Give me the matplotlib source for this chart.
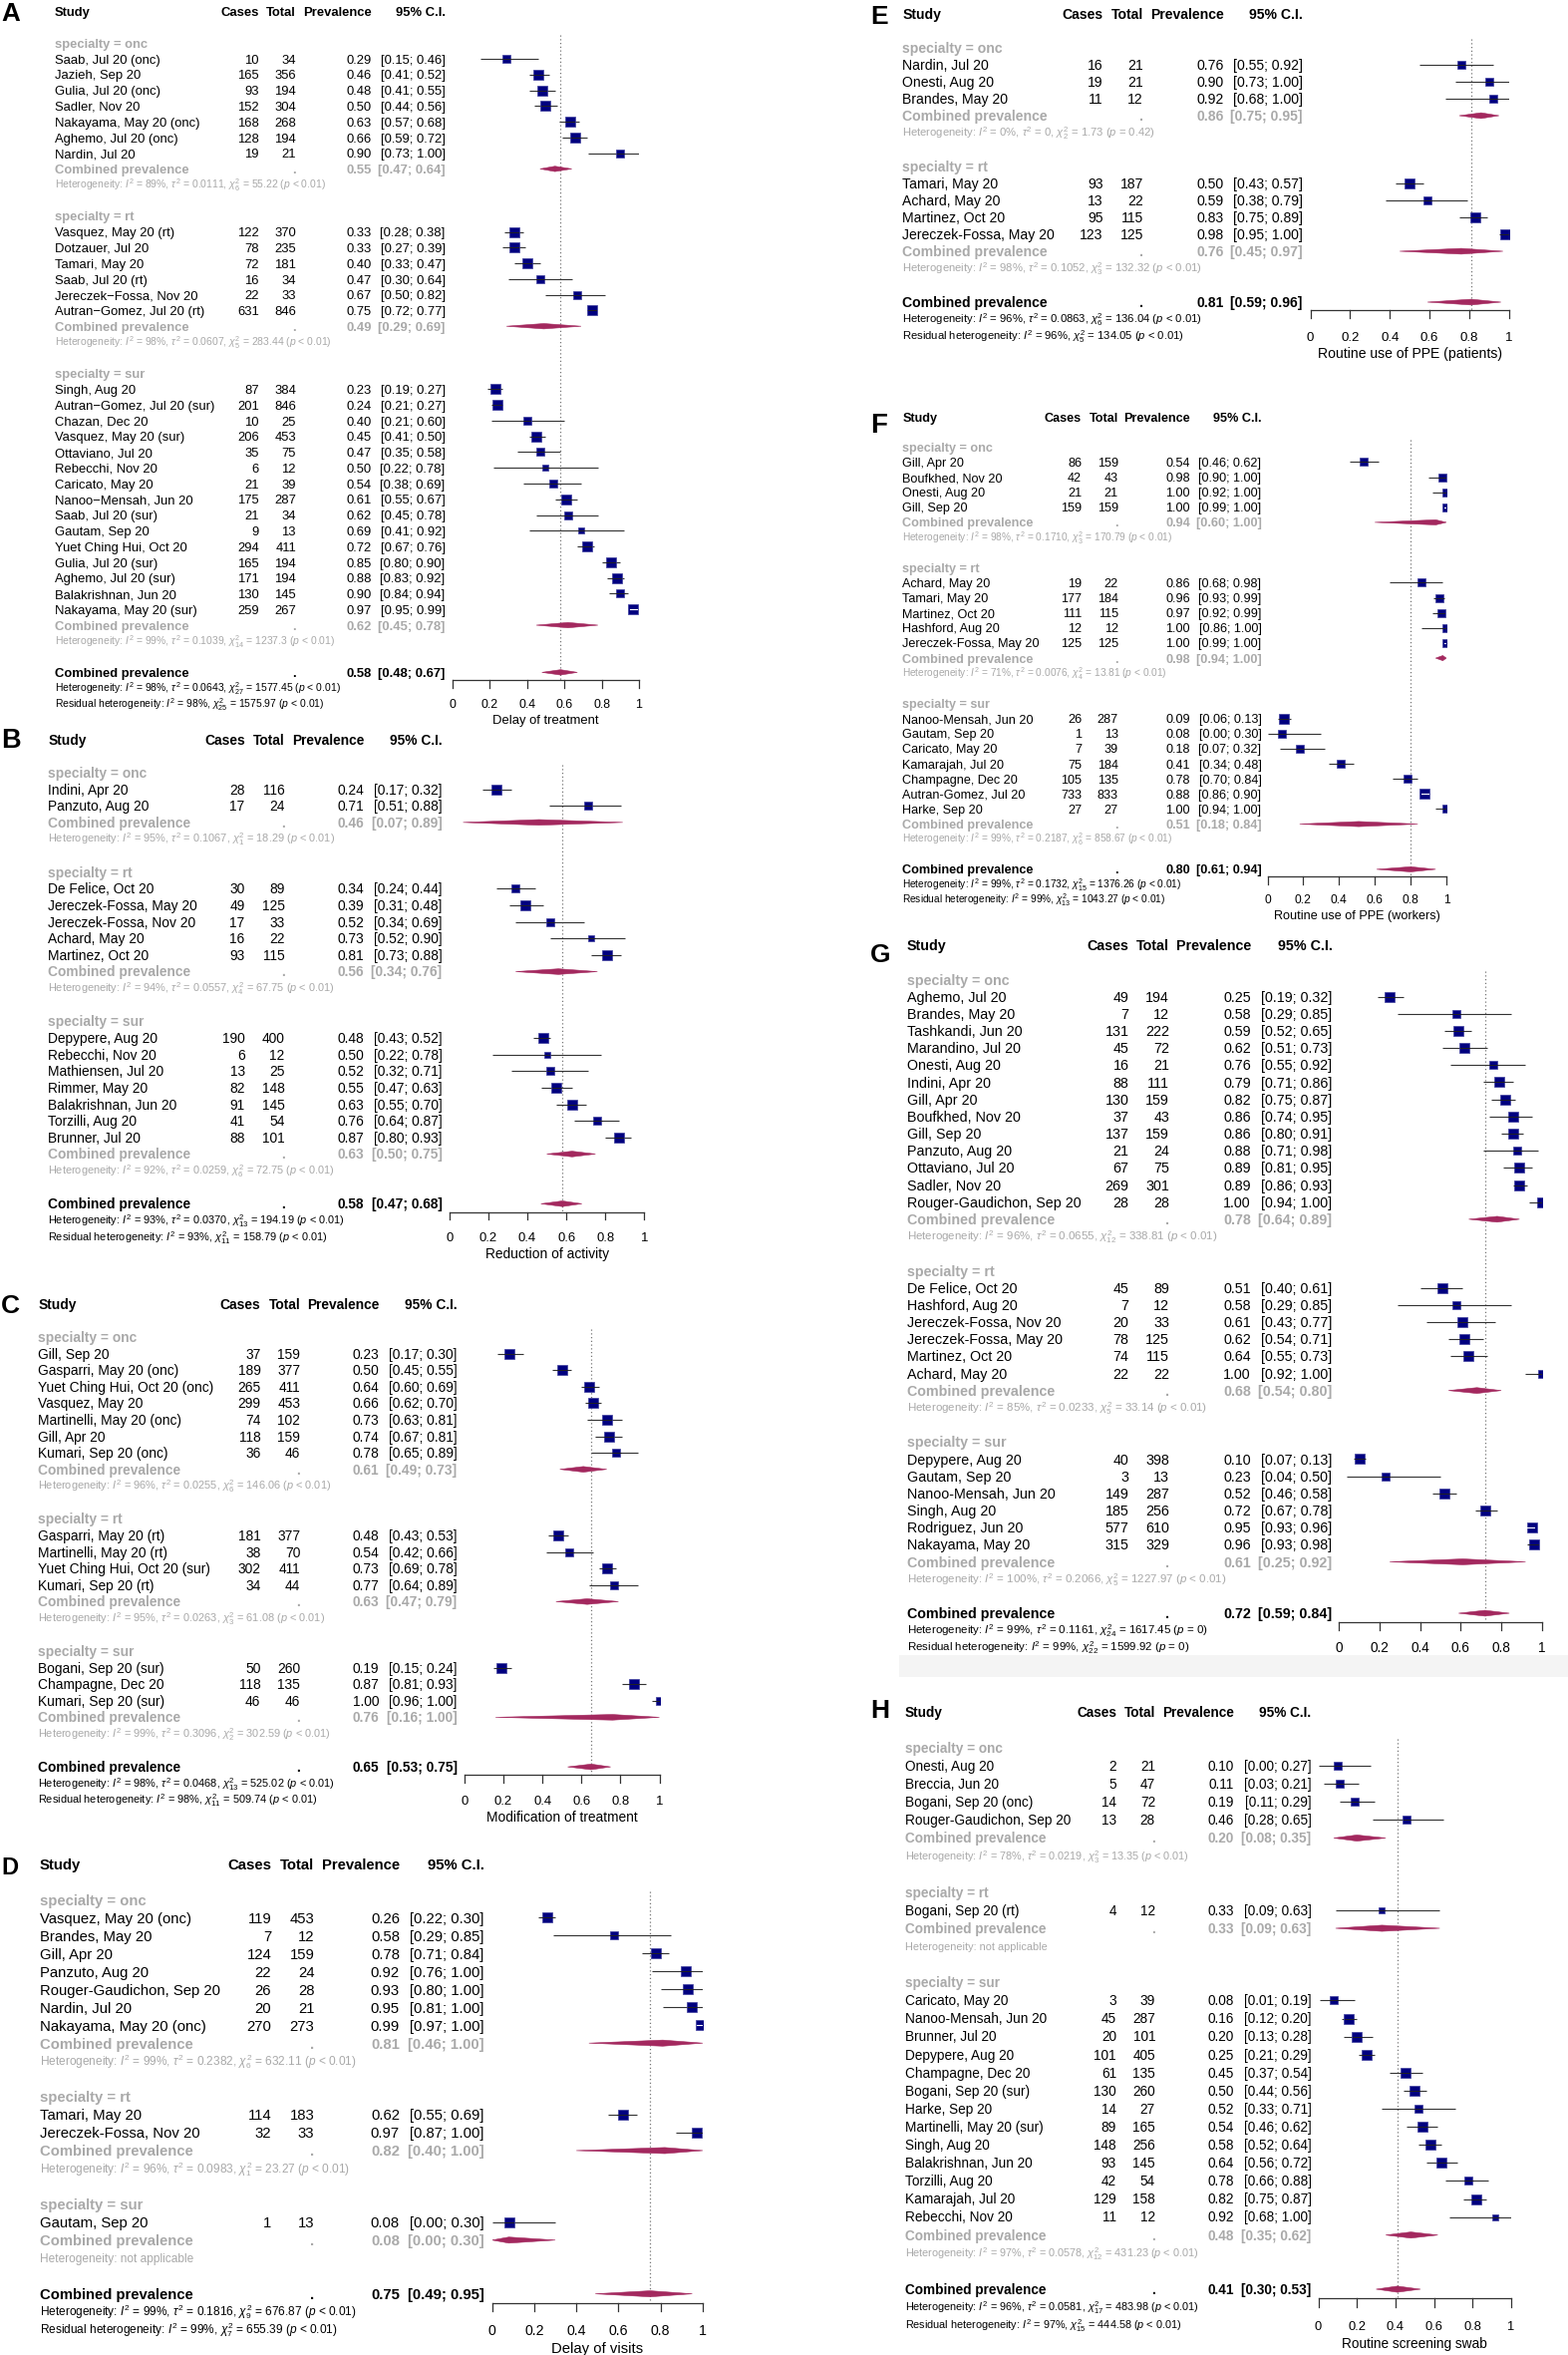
import math

import matplotlib

matplotlib.use("Agg")
import matplotlib.pyplot as plt
import matplotlib.transforms as mtransforms
from matplotlib.patches import Polygon, Rectangle

W, H = 1573, 2362
DPI = 100

# ---------------------------------------------------------------- data
# rows: (study, cases, total, prevalence, ci_low, ci_high)
# pooled: (prevalence, ci_low, ci_high)
# het: (I2, tau2, df, Q, p)   resid: (I2, df, Q, p)

A_ONC = [
    ("Saab, Jul 20 (onc)", 10, 34, 0.29, 0.15, 0.46),
    ("Jazieh, Sep 20", 165, 356, 0.46, 0.41, 0.52),
    ("Gulia, Jul 20 (onc)", 93, 194, 0.48, 0.41, 0.55),
    ("Sadler, Nov 20", 152, 304, 0.50, 0.44, 0.56),
    ("Nakayama, May 20 (onc)", 168, 268, 0.63, 0.57, 0.68),
    ("Aghemo, Jul 20 (onc)", 128, 194, 0.66, 0.59, 0.72),
    ("Nardin, Jul 20", 19, 21, 0.90, 0.73, 1.00),
]
A_ONC_POOL = (0.55, 0.47, 0.64)
A_ONC_HET = ("89%", "0.0111", "6", "55.22", "< 0.01")
A_RT = [
    ("Vasquez, May 20 (rt)", 122, 370, 0.33, 0.28, 0.38),
    ("Dotzauer, Jul 20", 78, 235, 0.33, 0.27, 0.39),
    ("Tamari, May 20", 72, 181, 0.40, 0.33, 0.47),
    ("Saab, Jul 20 (rt)", 16, 34, 0.47, 0.30, 0.64),
    ("Jereczek\u2212Fossa, Nov 20", 22, 33, 0.67, 0.50, 0.82),
    ("Autran\u2212Gomez, Jul 20 (rt)", 631, 846, 0.75, 0.72, 0.77),
]
A_RT_POOL = (0.49, 0.29, 0.69)
A_RT_HET = ("98%", "0.0607", "5", "283.44", "< 0.01")
A_SUR = [
    ("Singh, Aug 20", 87, 384, 0.23, 0.19, 0.27),
    ("Autran\u2212Gomez, Jul 20 (sur)", 201, 846, 0.24, 0.21, 0.27),
    ("Chazan, Dec 20", 10, 25, 0.40, 0.21, 0.60),
    ("Vasquez, May 20 (sur)", 206, 453, 0.45, 0.41, 0.50),
    ("Ottaviano, Jul 20", 35, 75, 0.47, 0.35, 0.58),
    ("Rebecchi, Nov 20", 6, 12, 0.50, 0.22, 0.78),
    ("Caricato, May 20", 21, 39, 0.54, 0.38, 0.69),
    ("Nanoo\u2212Mensah, Jun 20", 175, 287, 0.61, 0.55, 0.67),
    ("Saab, Jul 20 (sur)", 21, 34, 0.62, 0.45, 0.78),
    ("Gautam, Sep 20", 9, 13, 0.69, 0.41, 0.92),
    ("Yuet Ching Hui, Oct 20", 294, 411, 0.72, 0.67, 0.76),
    ("Gulia, Jul 20 (sur)", 165, 194, 0.85, 0.80, 0.90),
    ("Aghemo, Jul 20 (sur)", 171, 194, 0.88, 0.83, 0.92),
    ("Balakrishnan, Jun 20", 130, 145, 0.90, 0.84, 0.94),
    ("Nakayama, May 20 (sur)", 259, 267, 0.97, 0.95, 0.99),
]
A_SUR_POOL = (0.62, 0.45, 0.78)
A_SUR_HET = ("99%", "0.1039", "14", "1237.3", "< 0.01")
A_ALL = (0.58, 0.48, 0.67)
A_ALL_HET = ("98%", "0.0643", "27", "1577.45", "< 0.01")
A_RESID = ("98%", "25", "1575.97", "< 0.01")

B_ONC = [
    ("Indini, Apr 20", 28, 116, 0.24, 0.17, 0.32),
    ("Panzuto, Aug 20", 17, 24, 0.71, 0.51, 0.88),
]
B_ONC_POOL = (0.46, 0.07, 0.89)
B_ONC_HET = ("95%", "0.1067", "1", "18.29", "< 0.01")
B_RT = [
    ("De Felice, Oct 20", 30, 89, 0.34, 0.24, 0.44),
    ("Jereczek-Fossa, May 20", 49, 125, 0.39, 0.31, 0.48),
    ("Jereczek-Fossa, Nov 20", 17, 33, 0.52, 0.34, 0.69),
    ("Achard, May 20", 16, 22, 0.73, 0.52, 0.90),
    ("Martinez, Oct 20", 93, 115, 0.81, 0.73, 0.88),
]
B_RT_POOL = (0.56, 0.34, 0.76)
B_RT_HET = ("94%", "0.0557", "4", "67.75", "< 0.01")
B_SUR = [
    ("Depypere, Aug 20", 190, 400, 0.48, 0.43, 0.52),
    ("Rebecchi, Nov 20", 6, 12, 0.50, 0.22, 0.78),
    ("Mathiensen, Jul 20", 13, 25, 0.52, 0.32, 0.71),
    ("Rimmer, May 20", 82, 148, 0.55, 0.47, 0.63),
    ("Balakrishnan, Jun 20", 91, 145, 0.63, 0.55, 0.70),
    ("Torzilli, Aug 20", 41, 54, 0.76, 0.64, 0.87),
    ("Brunner, Jul 20", 88, 101, 0.87, 0.80, 0.93),
]
B_SUR_POOL = (0.63, 0.50, 0.75)
B_SUR_HET = ("92%", "0.0259", "6", "72.75", "< 0.01")
B_ALL = (0.58, 0.47, 0.68)
B_ALL_HET = ("93%", "0.0370", "13", "194.19", "< 0.01")
B_RESID = ("93%", "11", "158.79", "< 0.01")

C_ONC = [
    ("Gill, Sep 20", 37, 159, 0.23, 0.17, 0.30),
    ("Gasparri, May 20 (onc)", 189, 377, 0.50, 0.45, 0.55),
    ("Yuet Ching Hui, Oct 20 (onc)", 265, 411, 0.64, 0.60, 0.69),
    ("Vasquez, May 20", 299, 453, 0.66, 0.62, 0.70),
    ("Martinelli, May 20 (onc)", 74, 102, 0.73, 0.63, 0.81),
    ("Gill, Apr 20", 118, 159, 0.74, 0.67, 0.81),
    ("Kumari, Sep 20 (onc)", 36, 46, 0.78, 0.65, 0.89),
]
C_ONC_POOL = (0.61, 0.49, 0.73)
C_ONC_HET = ("96%", "0.0255", "6", "146.06", "< 0.01")
C_RT = [
    ("Gasparri, May 20 (rt)", 181, 377, 0.48, 0.43, 0.53),
    ("Martinelli, May 20 (rt)", 38, 70, 0.54, 0.42, 0.66),
    ("Yuet Ching Hui, Oct 20 (sur)", 302, 411, 0.73, 0.69, 0.78),
    ("Kumari, Sep 20 (rt)", 34, 44, 0.77, 0.64, 0.89),
]
C_RT_POOL = (0.63, 0.47, 0.79)
C_RT_HET = ("95%", "0.0263", "3", "61.08", "< 0.01")
C_SUR = [
    ("Bogani, Sep 20 (sur)", 50, 260, 0.19, 0.15, 0.24),
    ("Champagne, Dec 20", 118, 135, 0.87, 0.81, 0.93),
    ("Kumari, Sep 20 (sur)", 46, 46, 1.00, 0.96, 1.00),
]
C_SUR_POOL = (0.76, 0.16, 1.00)
C_SUR_HET = ("99%", "0.3096", "2", "302.59", "< 0.01")
C_ALL = (0.65, 0.53, 0.75)
C_ALL_HET = ("98%", "0.0468", "13", "525.02", "< 0.01")
C_RESID = ("98%", "11", "509.74", "< 0.01")

D_ONC = [
    ("Vasquez, May 20 (onc)", 119, 453, 0.26, 0.22, 0.30),
    ("Brandes, May 20", 7, 12, 0.58, 0.29, 0.85),
    ("Gill, Apr 20", 124, 159, 0.78, 0.71, 0.84),
    ("Panzuto, Aug 20", 22, 24, 0.92, 0.76, 1.00),
    ("Rouger-Gaudichon, Sep 20", 26, 28, 0.93, 0.80, 1.00),
    ("Nardin, Jul 20", 20, 21, 0.95, 0.81, 1.00),
    ("Nakayama, May 20 (onc)", 270, 273, 0.99, 0.97, 1.00),
]
D_ONC_POOL = (0.81, 0.46, 1.00)
D_ONC_HET = ("99%", "0.2382", "6", "632.11", "< 0.01")
D_RT = [
    ("Tamari, May 20", 114, 183, 0.62, 0.55, 0.69),
    ("Jereczek-Fossa, Nov 20", 32, 33, 0.97, 0.87, 1.00),
]
D_RT_POOL = (0.82, 0.40, 1.00)
D_RT_HET = ("96%", "0.0983", "1", "23.27", "< 0.01")
D_SUR = [
    ("Gautam, Sep 20", 1, 13, 0.08, 0.00, 0.30),
]
D_SUR_POOL = (0.08, 0.00, 0.30)
D_SUR_HET = None
D_ALL = (0.75, 0.49, 0.95)
D_ALL_HET = ("99%", "0.1816", "9", "676.87", "< 0.01")
D_RESID = ("99%", "7", "655.39", "< 0.01")

E_ONC = [
    ("Nardin, Jul 20", 16, 21, 0.76, 0.55, 0.92),
    ("Onesti, Aug 20", 19, 21, 0.90, 0.73, 1.00),
    ("Brandes, May 20", 11, 12, 0.92, 0.68, 1.00),
]
E_ONC_POOL = (0.86, 0.75, 0.95)
E_ONC_HET = ("0%", "0", "2", "1.73", "= 0.42")
E_RT = [
    ("Tamari, May 20", 93, 187, 0.50, 0.43, 0.57),
    ("Achard, May 20", 13, 22, 0.59, 0.38, 0.79),
    ("Martinez, Oct 20", 95, 115, 0.83, 0.75, 0.89),
    ("Jereczek-Fossa, May 20", 123, 125, 0.98, 0.95, 1.00),
]
E_RT_POOL = (0.76, 0.45, 0.97)
E_RT_HET = ("98%", "0.1052", "3", "132.32", "< 0.01")
E_ALL = (0.81, 0.59, 0.96)
E_ALL_HET = ("96%", "0.0863", "6", "136.04", "< 0.01")
E_RESID = ("96%", "5", "134.05", "< 0.01")

F_ONC = [
    ("Gill, Apr 20", 86, 159, 0.54, 0.46, 0.62),
    ("Boufkhed, Nov 20", 42, 43, 0.98, 0.90, 1.00),
    ("Onesti, Aug 20", 21, 21, 1.00, 0.92, 1.00),
    ("Gill, Sep 20", 159, 159, 1.00, 0.99, 1.00),
]
F_ONC_POOL = (0.94, 0.60, 1.00)
F_ONC_HET = ("98%", "0.1710", "3", "170.79", "< 0.01")
F_RT = [
    ("Achard, May 20", 19, 22, 0.86, 0.68, 0.98),
    ("Tamari, May 20", 177, 184, 0.96, 0.93, 0.99),
    ("Martinez, Oct 20", 111, 115, 0.97, 0.92, 0.99),
    ("Hashford, Aug 20", 12, 12, 1.00, 0.86, 1.00),
    ("Jereczek-Fossa, May 20", 125, 125, 1.00, 0.99, 1.00),
]
F_RT_POOL = (0.98, 0.94, 1.00)
F_RT_HET = ("71%", "0.0076", "4", "13.81", "< 0.01")
F_SUR = [
    ("Nanoo-Mensah, Jun 20", 26, 287, 0.09, 0.06, 0.13),
    ("Gautam, Sep 20", 1, 13, 0.08, 0.00, 0.30),
    ("Caricato, May 20", 7, 39, 0.18, 0.07, 0.32),
    ("Kamarajah, Jul 20", 75, 184, 0.41, 0.34, 0.48),
    ("Champagne, Dec 20", 105, 135, 0.78, 0.70, 0.84),
    ("Autran-Gomez, Jul 20", 733, 833, 0.88, 0.86, 0.90),
    ("Harke, Sep 20", 27, 27, 1.00, 0.94, 1.00),
]
F_SUR_POOL = (0.51, 0.18, 0.84)
F_SUR_HET = ("99%", "0.2187", "6", "858.67", "< 0.01")
F_ALL = (0.80, 0.61, 0.94)
F_ALL_HET = ("99%", "0.1732", "15", "1376.26", "< 0.01")
F_RESID = ("99%", "13", "1043.27", "< 0.01")

G_ONC = [
    ("Aghemo, Jul 20", 49, 194, 0.25, 0.19, 0.32),
    ("Brandes, May 20", 7, 12, 0.58, 0.29, 0.85),
    ("Tashkandi, Jun 20", 131, 222, 0.59, 0.52, 0.65),
    ("Marandino, Jul 20", 45, 72, 0.62, 0.51, 0.73),
    ("Onesti, Aug 20", 16, 21, 0.76, 0.55, 0.92),
    ("Indini, Apr 20", 88, 111, 0.79, 0.71, 0.86),
    ("Gill, Apr 20", 130, 159, 0.82, 0.75, 0.87),
    ("Boufkhed, Nov 20", 37, 43, 0.86, 0.74, 0.95),
    ("Gill, Sep 20", 137, 159, 0.86, 0.80, 0.91),
    ("Panzuto, Aug 20", 21, 24, 0.88, 0.71, 0.98),
    ("Ottaviano, Jul 20", 67, 75, 0.89, 0.81, 0.95),
    ("Sadler, Nov 20", 269, 301, 0.89, 0.86, 0.93),
    ("Rouger-Gaudichon, Sep 20", 28, 28, 1.00, 0.94, 1.00),
]
G_ONC_POOL = (0.78, 0.64, 0.89)
G_ONC_HET = ("96%", "0.0655", "12", "338.81", "< 0.01")
G_RT = [
    ("De Felice, Oct 20", 45, 89, 0.51, 0.40, 0.61),
    ("Hashford, Aug 20", 7, 12, 0.58, 0.29, 0.85),
    ("Jereczek-Fossa, Nov 20", 20, 33, 0.61, 0.43, 0.77),
    ("Jereczek-Fossa, May 20", 78, 125, 0.62, 0.54, 0.71),
    ("Martinez, Oct 20", 74, 115, 0.64, 0.55, 0.73),
    ("Achard, May 20", 22, 22, 1.00, 0.92, 1.00),
]
G_RT_POOL = (0.68, 0.54, 0.80)
G_RT_HET = ("85%", "0.0233", "5", "33.14", "< 0.01")
G_SUR = [
    ("Depypere, Aug 20", 40, 398, 0.10, 0.07, 0.13),
    ("Gautam, Sep 20", 3, 13, 0.23, 0.04, 0.50),
    ("Nanoo-Mensah, Jun 20", 149, 287, 0.52, 0.46, 0.58),
    ("Singh, Aug 20", 185, 256, 0.72, 0.67, 0.78),
    ("Rodriguez, Jun 20", 577, 610, 0.95, 0.93, 0.96),
    ("Nakayama, May 20", 315, 329, 0.96, 0.93, 0.98),
]
G_SUR_POOL = (0.61, 0.25, 0.92)
G_SUR_HET = ("100%", "0.2066", "5", "1227.97", "< 0.01")
G_ALL = (0.72, 0.59, 0.84)
G_ALL_HET = ("99%", "0.1161", "24", "1617.45", "= 0")
G_RESID = ("99%", "22", "1599.92", "= 0")

H_ONC = [
    ("Onesti, Aug 20", 2, 21, 0.10, 0.00, 0.27),
    ("Breccia, Jun 20", 5, 47, 0.11, 0.03, 0.21),
    ("Bogani, Sep 20 (onc)", 14, 72, 0.19, 0.11, 0.29),
    ("Rouger-Gaudichon, Sep 20", 13, 28, 0.46, 0.28, 0.65),
]
H_ONC_POOL = (0.20, 0.08, 0.35)
H_ONC_HET = ("78%", "0.0219", "3", "13.35", "< 0.01")
H_RT = [
    ("Bogani, Sep 20 (rt)", 4, 12, 0.33, 0.09, 0.63),
]
H_RT_POOL = (0.33, 0.09, 0.63)
H_RT_HET = None
H_SUR = [
    ("Caricato, May 20", 3, 39, 0.08, 0.01, 0.19),
    ("Nanoo-Mensah, Jun 20", 45, 287, 0.16, 0.12, 0.20),
    ("Brunner, Jul 20", 20, 101, 0.20, 0.13, 0.28),
    ("Depypere, Aug 20", 101, 405, 0.25, 0.21, 0.29),
    ("Champagne, Dec 20", 61, 135, 0.45, 0.37, 0.54),
    ("Bogani, Sep 20 (sur)", 130, 260, 0.50, 0.44, 0.56),
    ("Harke, Sep 20", 14, 27, 0.52, 0.33, 0.71),
    ("Martinelli, May 20 (sur)", 89, 165, 0.54, 0.46, 0.62),
    ("Singh, Aug 20", 148, 256, 0.58, 0.52, 0.64),
    ("Balakrishnan, Jun 20", 93, 145, 0.64, 0.56, 0.72),
    ("Torzilli, Aug 20", 42, 54, 0.78, 0.66, 0.88),
    ("Kamarajah, Jul 20", 129, 158, 0.82, 0.75, 0.87),
    ("Rebecchi, Nov 20", 11, 12, 0.92, 0.68, 1.00),
]
H_SUR_POOL = (0.48, 0.35, 0.62)
H_SUR_HET = ("97%", "0.0578", "12", "431.23", "< 0.01")
H_ALL = (0.41, 0.30, 0.53)
H_ALL_HET = ("96%", "0.0581", "17", "483.98", "< 0.01")
H_RESID = ("97%", "15", "444.58", "< 0.01")

TICKS = [0, 0.2, 0.4, 0.6, 0.8, 1]
TICK_LABELS = ["0", "0.2", "0.4", "0.6", "0.8", "1"]

PANELS = [
    ("A", [("onc", A_ONC, A_ONC_POOL, A_ONC_HET), ("rt", A_RT, A_RT_POOL, A_RT_HET),
           ("sur", A_SUR, A_SUR_POOL, A_SUR_HET)], A_ALL, A_ALL_HET, A_RESID, "Delay of treatment"),
    ("B", [("onc", B_ONC, B_ONC_POOL, B_ONC_HET), ("rt", B_RT, B_RT_POOL, B_RT_HET),
           ("sur", B_SUR, B_SUR_POOL, B_SUR_HET)], B_ALL, B_ALL_HET, B_RESID, "Reduction of activity"),
    ("C", [("onc", C_ONC, C_ONC_POOL, C_ONC_HET), ("rt", C_RT, C_RT_POOL, C_RT_HET),
           ("sur", C_SUR, C_SUR_POOL, C_SUR_HET)], C_ALL, C_ALL_HET, C_RESID, "Modification of treatment"),
    ("D", [("onc", D_ONC, D_ONC_POOL, D_ONC_HET), ("rt", D_RT, D_RT_POOL, D_RT_HET),
           ("sur", D_SUR, D_SUR_POOL, D_SUR_HET)], D_ALL, D_ALL_HET, D_RESID, "Delay of visits"),
    ("E", [("onc", E_ONC, E_ONC_POOL, E_ONC_HET), ("rt", E_RT, E_RT_POOL, E_RT_HET)],
     E_ALL, E_ALL_HET, E_RESID, "Routine use of PPE (patients)"),
    ("F", [("onc", F_ONC, F_ONC_POOL, F_ONC_HET), ("rt", F_RT, F_RT_POOL, F_RT_HET),
           ("sur", F_SUR, F_SUR_POOL, F_SUR_HET)], F_ALL, F_ALL_HET, F_RESID, "Routine use of PPE (workers)"),
    ("G", [("onc", G_ONC, G_ONC_POOL, G_ONC_HET), ("rt", G_RT, G_RT_POOL, G_RT_HET),
           ("sur", G_SUR, G_SUR_POOL, G_SUR_HET)], G_ALL, G_ALL_HET, G_RESID, "Remote consultations"),
    ("H", [("onc", H_ONC, H_ONC_POOL, H_ONC_HET), ("rt", H_RT, H_RT_POOL, H_RT_HET),
           ("sur", H_SUR, H_SUR_POOL, H_SUR_HET)], H_ALL, H_ALL_HET, H_RESID, "Routine screening swab"),
]

# ---------------------------------------------------------------- layout (pixels)
# top: y of header line, unit: line height, em: font size,
# column x positions (study left, others right aligned), x0/x1: axis 0 and 1,
# lx/ldy/lsize: panel letter position and size
LAYOUT = {
    "A": dict(top=11.6, unit=15.78, em=13.0, study=54.7, cases=259.8, total=297.0,
              prev=372.6, ci=446.6, x0=453.8, x1=641.0, lx=1, ldy=2.5, lsize=18.7),
    "B": dict(top=741.7, unit=16.63, em=13.8, study=48.3, cases=245.7, total=285.5,
              prev=365.4, ci=443.6, x0=450.9, x1=646.2, lx=1, ldy=1, lsize=19.5),
    "C": dict(top=1307.9, unit=16.58, em=13.8, study=38.5, cases=261.5, total=301.3,
              prev=380.3, ci=458.5, x0=465.8, x1=661.5, lx=1, ldy=2, lsize=19.0),
    "D": dict(top=1869.6, unit=17.96, em=14.9, study=39.7, cases=272.2, total=315.4,
              prev=400.9, ci=485.5, x0=493.6, x1=705.0, lx=1, ldy=3.5, lsize=17.0),
    "E": dict(top=14.0, unit=17.0, em=14.0, study=905.2, cases=1106.5, total=1147.0,
              prev=1227.5, ci=1306.8, x0=1314.6, x1=1513.7, lx=873, ldy=3, lsize=19.0),
    "F": dict(top=418.0, unit=15.13, em=12.6, study=905.2, cases=1085.0, total=1121.7,
              prev=1194.0, ci=1265.4, x0=1271.5, x1=1451.0, lx=873, ldy=8.5, lsize=20.0),
    "G": dict(top=948.0, unit=17.18, em=14.3, study=910.0, cases=1132.6, total=1173.0,
              prev=1255.0, ci=1336.4, x0=1343.3, x1=1546.7, lx=873, ldy=10, lsize=19.0),
    "H": dict(top=1716.8, unit=18.1, em=13.6, study=908.0, cases=1120.0, total=1159.0,
              prev=1237.6, ci=1315.5, x0=1322.5, x1=1515.9, lx=873, ldy=-1, lsize=19.0),
}

FONT = ["Liberation Sans", "DejaVu Sans"]
GREY = "#a9a9a9"
SQUARE = "#00007f"
DIAMOND = "#a3285e"

plt.rcParams["font.family"] = FONT
plt.rcParams["mathtext.fontset"] = "custom"
plt.rcParams["mathtext.rm"] = "Liberation Sans"
plt.rcParams["mathtext.it"] = "Liberation Sans:italic"
plt.rcParams["mathtext.bf"] = "Liberation Sans:bold"


def het_text(h):
    if h is None:
        return "Heterogeneity: not applicable"
    i2, tau2, df, q, p = h
    return (f"Heterogeneity: $I^2$ = {i2}, $\\tau^2$ = {tau2}, "
            f"$\\chi^2_{{{df}}}$ = {q} ($p$ {p})")


def resid_text(h):
    i2, df, q, p = h
    return f"Residual heterogeneity: $I^2$ = {i2}, $\\chi^2_{{{df}}}$ = {q} ($p$ {p})"


def draw_panel(fig, letter, groups, overall, ov_het, ov_resid, xlabel):
    L = LAYOUT[letter]
    u, em = L["unit"], L["em"]
    pt = em * 72 / DPI

    # line numbers of every row
    line = 2
    placed = []
    for name, studies, pool, het in groups:
        placed.append((line, name, studies, pool, het))
        line += len(studies) + 4
    ov = line
    n_lines = ov + 3

    bottom = L["top"] + (n_lines + 1) * u
    ax = fig.add_axes([L["x0"] / W, 1 - bottom / H, (L["x1"] - L["x0"]) / W, (n_lines + 2) * u / H])
    ax.set_xlim(0, 1)
    ax.set_ylim(n_lines + 1, -1)
    ax.axis("off")
    tr = mtransforms.blended_transform_factory(fig.transFigure, ax.transData)
    base = 0.36 * em / u  # baseline offset from line centre

    def txt(xpx, y, s, ha="left", size=1.0, **kw):
        ax.text(xpx / W, y + base * size, s, transform=tr, ha=ha, va="baseline",
                fontsize=pt * size, clip_on=False, **kw)

    def values(y, est, lo, hi, **kw):
        txt(L["prev"], y, f"{est:.2f}", ha="right", **kw)
        txt(L["ci"], y, f"[{lo:.2f}; {hi:.2f}]", ha="right", **kw)

    def diamond(y, est, lo, hi):
        h = 0.17
        ax.add_patch(Polygon([(lo, y), (est, y - h), (hi, y), (est, y + h)], closed=True,
                             facecolor=DIAMOND, edgecolor=DIAMOND, lw=0.4, zorder=3))

    fig.text(L["lx"] / W, 1 - (L["top"] + L["ldy"]) / H, letter, fontsize=L["lsize"],
             fontweight="bold", ha="left", va="center")

    # header
    txt(L["study"], 0, "Study", fontweight="bold")
    txt(L["cases"], 0, "Cases", ha="right", fontweight="bold")
    txt(L["total"], 0, "Total", ha="right", fontweight="bold")
    txt(L["prev"], 0, "Prevalence", ha="right", fontweight="bold")
    txt(L["ci"], 0, "95% C.I.", ha="right", fontweight="bold")

    tau2 = float(ov_het[1])
    all_n = [r[2] for _, _, studies, _, _ in placed for r in studies]
    wmax = max(1 / (1 / (n + 0.5) + tau2) for n in all_n)
    side_max = 0.72 * em
    px_per_unit_x = L["x1"] - L["x0"]

    for gl, name, studies, pool, het in placed:
        txt(L["study"], gl, f"specialty = {name}", color=GREY, fontweight="bold")
        for k, (study, cases, total, est, lo, hi) in enumerate(studies):
            y = gl + 1 + k
            txt(L["study"], y, study)
            txt(L["cases"], y, str(cases), ha="right")
            txt(L["total"], y, str(total), ha="right")
            values(y, est, lo, hi)
            w = 1 / (1 / (total + 0.5) + tau2)
            side = side_max * math.sqrt(w / wmax)
            half = side / 2 / px_per_unit_x
            inside = lo >= est - half and hi <= est + half
            if not inside:
                ax.plot([lo, hi], [y, y], color="#333333", lw=0.8, zorder=2,
                        solid_capstyle="butt")
            ax.scatter([est], [y], s=(side * 72 / DPI) ** 2, marker="s", c=SQUARE,
                       edgecolors="#3c3c9c", linewidths=0.5, zorder=3)
            if inside:
                ax.plot([lo, hi], [y, y], color="white", lw=0.8, zorder=4)
            else:
                ax.plot([max(lo, est - half), min(hi, est + half)], [y, y],
                        color="#222222", lw=0.7, zorder=4)
        yp = gl + len(studies) + 1
        txt(L["study"], yp, "Combined prevalence", color=GREY, fontweight="bold")
        txt(L["total"], yp, ".", ha="right", color=GREY, fontweight="bold")
        values(yp, *pool, color=GREY, fontweight="bold")
        diamond(yp, *pool)
        txt(L["study"], yp + 1, het_text(het), color=GREY, size=0.8)

    # overall
    txt(L["study"], ov, "Combined prevalence", fontweight="bold")
    txt(L["total"], ov, ".", ha="right", fontweight="bold")
    values(ov, *overall, fontweight="bold")
    diamond(ov, *overall)
    txt(L["study"], ov + 1, het_text(ov_het), size=0.8)
    txt(L["study"], ov + 2, resid_text(ov_resid), size=0.8)

    # reference line
    ax.plot([overall[0]] * 2, [1.5, ov + 0.5], color="#777777", lw=0.9,
            ls=(0, (1, 2)), zorder=1)

    # x axis
    ya = ov + 0.5
    ax.plot([0, 1], [ya, ya], color="#333333", lw=0.9, clip_on=False)
    for t, lab in zip(TICKS, TICK_LABELS):
        ax.plot([t, t], [ya, ya + 0.47], color="#333333", lw=0.9, clip_on=False)
        ax.text(t, ov + 2 + base * 0.95, lab, ha="center", va="baseline",
                fontsize=pt * 0.95, clip_on=False)
    ax.text(0.5, ov + 3 + base, xlabel, ha="center", va="baseline", fontsize=pt,
            clip_on=False)


def main() -> None:
    fig = plt.figure(figsize=(W / DPI, H / DPI), dpi=DPI)
    fig.patches.append(Rectangle((902 / W, 1 - 1682 / H), (W - 902) / W, 22 / H,
                                 transform=fig.transFigure, facecolor="#f4f4f4",
                                 edgecolor="none", zorder=0))
    for letter, groups, overall, ov_het, ov_resid, xlabel in PANELS:
        draw_panel(fig, letter, groups, overall, ov_het, ov_resid, xlabel)
    fig.savefig("out.png", dpi=DPI)
    plt.close(fig)


if __name__ == "__main__":
    main()
